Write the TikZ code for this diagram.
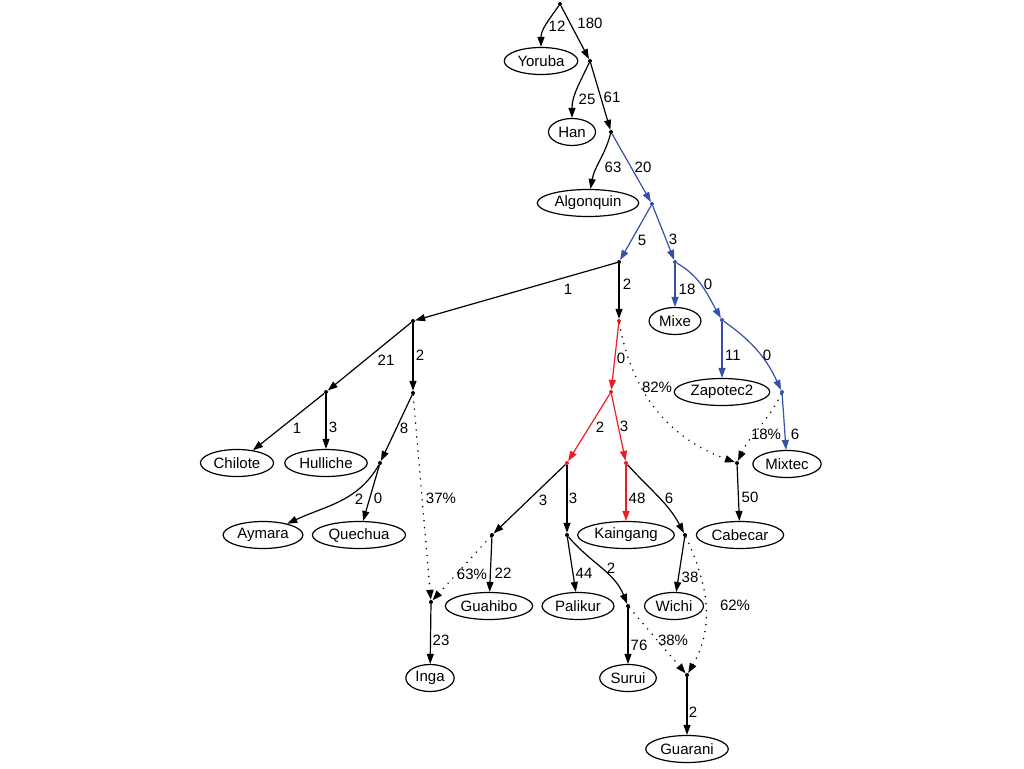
\documentclass[tikz,border=0pt]{standalone}
\usepackage{fontspec}
\setmainfont{Liberation Sans}
\usetikzlibrary{arrows.meta,shapes.geometric}
\definecolor{eblue}{RGB}{52,80,168}
\definecolor{ered}{RGB}{237,28,36}
\begin{document}
\begin{tikzpicture}[x=1pt,y=-1pt,
 font=\fontsize{15}{18}\selectfont,
 leaf/.style={ellipse,draw,line width=1.2pt,inner xsep=2.5pt,inner ysep=1pt,minimum height=27pt,minimum width=47pt},
 dot/.style={circle,fill,inner sep=0pt,minimum size=4pt},
 edge/.style={line width=1.2pt,-{Triangle[length=10pt,width=7pt]}},
 mix/.style={edge,line width=1.7pt,dash pattern=on 0pt off 7pt,line cap=round},
 lbl/.style={inner sep=0pt,text=black}]
\useasboundingbox (0,0) rectangle (1024,768);
% internal nodes
\node[dot] (r) at (560,4) {};
\node[dot] (n1) at (590,61) {};
\node[dot] (n2) at (611,132) {};
\node[dot,eblue] (n3) at (652,204) {};
\node[dot] (n4) at (619,262) {};
\node[dot,eblue] (n5) at (675,262) {};
\node[dot] (n6) at (413,321) {};
\node[dot,ered] (n7) at (619,321) {};
\node[dot,eblue] (n8) at (722,320) {};
\node[dot,eblue] (n9) at (782,392) {};
\node[dot] (n10) at (326,392) {};
\node[dot] (n11) at (413,393) {};
\node[dot,ered] (n12) at (611,392) {};
\node[dot] (n13) at (380,463) {};
\node[dot,ered] (n14) at (567,463) {};
\node[dot,ered] (n15) at (626,463) {};
\node[dot] (a1) at (737,463) {};
\node[dot] (n16) at (492,535) {};
\node[dot] (n17) at (567,535) {};
\node[dot] (n18) at (685,535) {};
\node[dot] (a2) at (431,602) {};
\node[dot] (n19) at (628,606) {};
\node[dot] (a3) at (687,675) {};
% leaves
\node[leaf] (yoruba) at (541,61) {Yoruba};
\node[leaf] (han) at (572,132) {Han};
\node[leaf] (algonquin) at (588,203) {Algonquin};
\node[leaf] (mixe) at (675,321) {Mixe};
\node[leaf] (zapotec) at (722,392) {Zapotec2};
\node[leaf] (mixtec) at (787,464) {Mixtec};
\node[leaf] (chilote) at (237,463) {Chilote};
\node[leaf] (hulliche) at (326,463) {Hulliche};
\node[leaf] (aymara) at (263,535) {Aymara};
\node[leaf] (quechua) at (359,535) {Quechua};
\node[leaf] (kaingang) at (626,535) {Kaingang};
\node[leaf] (cabecar) at (740,535) {Cabecar};
\node[leaf] (guahibo) at (489,606) {Guahibo};
\node[leaf] (palikur) at (578,606) {Palikur};
\node[leaf] (wichi) at (674,606) {Wichi};
\node[leaf] (inga) at (430,678) {Inga};
\node[leaf] (surui) at (628,678) {Surui};
\node[leaf] (guarani) at (687,749) {Guarani};
% edges
\draw[edge] (r) to[out=-125,in=90] (yoruba) node[lbl] at (557,26) {12};
\draw[edge] (r) -- (n1) node[lbl] at (590,23) {180};
\draw[edge] (n1) to[out=-115,in=90] (han) node[lbl] at (587,99) {25};
\draw[edge] (n1) -- (n2) node[lbl] at (612,97) {61};
\draw[edge] (n2) to[out=-105,in=80] (algonquin) node[lbl] at (613,167) {63};
\draw[edge,eblue] (n2) -- (n3) node[lbl] at (643,167) {20};
\draw[edge,eblue] (n3) -- (n4) node[lbl] at (642,240) {5};
\draw[edge,eblue] (n3) -- (n5) node[lbl] at (673,239) {3};
\draw[edge] (n4) -- (n6) node[lbl] at (568,289) {1};
\draw[edge] (n4) -- (n7) node[lbl] at (627,284) {2};
\draw[edge,eblue] (n5) -- (mixe) node[lbl] at (687,289) {18};
\draw[edge,eblue] (n5) to[out=-30,in=120] (n8) node[lbl] at (708,284) {0};
\draw[edge,eblue] (n8) -- (zapotec) node[lbl] at (733,355) {11};
\draw[edge,eblue] (n8) to[out=-35,in=115] (n9) node[lbl] at (767,355) {0};
\draw[edge,eblue] (n9) -- (mixtec) node[lbl] at (795,434) {6};
\draw[mix] (n9) to[out=-115,in=65] (a1) node[lbl] at (766,434) {18\%};
\draw[mix] (n7) to[out=-80,in=160] (a1) node[lbl] at (657,387) {82\%};
\draw[edge,ered] (n7) -- (n12) node[lbl] at (621,358) {0};
\draw[edge,ered] (n12) -- (n14) node[lbl] at (600,427) {2};
\draw[edge,ered] (n12) -- (n15) node[lbl] at (624,426) {3};
\draw[edge] (a1) -- (cabecar) node[lbl] at (750,497) {50};
\draw[edge] (n6) -- (n10) node[lbl] at (386,360) {21};
\draw[edge] (n6) -- (n11) node[lbl] at (420,355) {2};
\draw[edge] (n10) -- (chilote) node[lbl] at (297,428) {1};
\draw[edge] (n10) -- (hulliche) node[lbl] at (333,427) {3};
\draw[edge] (n11) -- (n13) node[lbl] at (404,428) {8};
\draw[mix] (n11) -- (a2) node[lbl] at (441,498) {37\%};
\draw[edge] (n13) to[out=-120,in=25] (aymara) node[lbl] at (359,499) {2};
\draw[edge] (n13) -- (quechua) node[lbl] at (378,498) {0};
\draw[edge] (n14) -- (n16) node[lbl] at (543,500) {3};
\draw[edge] (n14) -- (n17) node[lbl] at (573,498) {3};
\draw[edge,ered] (n15) -- (kaingang) node[lbl] at (637,498) {48};
\draw[edge] (n15) to[out=-48,in=118] (n18) node[lbl] at (669,498) {6};
\draw[edge] (n16) -- (guahibo) node[lbl] at (503,573) {22};
\draw[mix] (n16) -- (a2) node[lbl] at (472,574) {63\%};
\draw[edge] (n17) -- (palikur) node[lbl] at (584,573) {44};
\draw[edge] (n17) to[out=-50,in=112] (n19) node[lbl] at (611,568) {2};
\draw[edge] (n18) -- (wichi) node[lbl] at (690,577) {38};
\draw[mix] (n18) to[out=-65,in=60] (a3) node[lbl] at (735,605) {62\%};
\draw[edge] (n19) -- (surui) node[lbl] at (639,645) {76};
\draw[mix] (n19) -- (a3) node[lbl] at (673,640) {38\%};
\draw[edge] (a2) -- (inga) node[lbl] at (441,640) {23};
\draw[edge] (a3) -- (guarani) node[lbl] at (693,712) {2};
\end{tikzpicture}
\end{document}
